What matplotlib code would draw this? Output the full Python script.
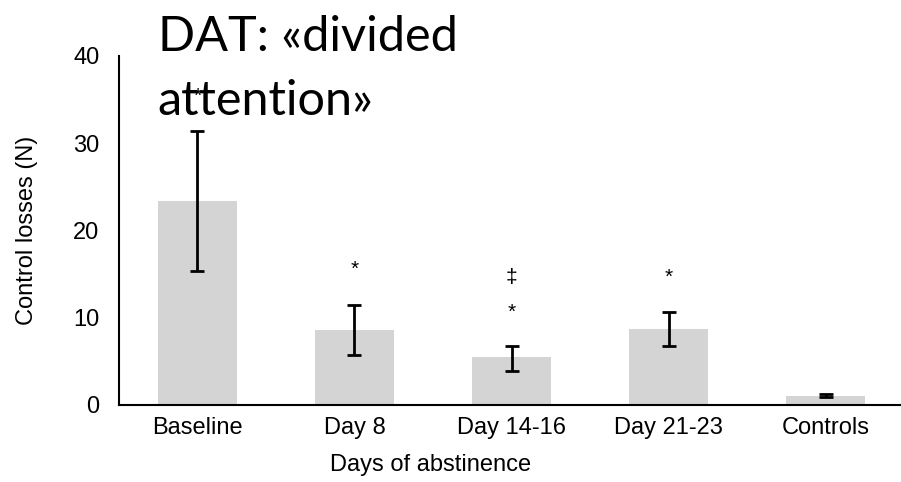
import matplotlib.pyplot as plt
import numpy as np

# values
groups = ["Baseline", "Day 8", "Day 14-16", "Day 21-23", "Controls"]
means = [23.4, 8.6, 5.5, 8.7, 1.0]
err_low = [8.0, 2.9, 1.5, 1.9, 0.15]
err_high = [8.0, 2.9, 1.3, 1.9, 0.15]
err_center = [23.4, 8.6, 5.4, 8.7, 1.1]

# significance marks: (group index, y value, symbol)
mark_idx = [0, 1, 2, 2, 3]
mark_y = [35.4, 15.5, 10.6, 14.6, 14.6]
mark_sym = ["*", "*", "*", "‡", "*"]

plt.rcParams['font.family'] = ['Liberation Sans', 'DejaVu Sans']

fig = plt.figure(figsize=(9.01, 4.82), dpi=100)
ax = fig.add_axes([0.132, 0.160, 0.868, 0.724])

x = np.arange(len(groups))
ax.bar(x, means, width=0.5, color='#d4d4d4', zorder=1)
ax.errorbar(x, err_center, yerr=[err_low, err_high], fmt='none',
            ecolor='black', elinewidth=2, capsize=5, capthick=2, zorder=3)

for i, yv, s in zip(mark_idx, mark_y, mark_sym):
    ax.text(x[i], yv, s, ha='center', va='center', fontsize=15, zorder=4)

ax.set_xlim(-0.5, 4.48)
ax.set_ylim(0, 40)
ax.set_yticks([0, 10, 20, 30, 40])
ax.set_xticks(x)
ax.set_xticklabels(groups)
ax.tick_params(axis='both', length=0, labelsize=17)
ax.tick_params(axis='y', pad=14)
ax.tick_params(axis='x', pad=9)

for side in ['top', 'right']:
    ax.spines[side].set_visible(False)
ax.spines['left'].set_linewidth(1.5)
ax.spines['bottom'].set_linewidth(1.5)

ax.set_ylabel("Control losses (N)", fontsize=17)
ax.yaxis.set_label_coords(-0.104, 0.5)
ax.set_xlabel("Days of abstinence", fontsize=17)
ax.xaxis.set_label_coords(0.398, -0.14)

# big overlay title, drawn over the plot like in the original slide
fig.text(0.175, 0.968, "DAT: «divided\nattention»", fontsize=35,
         family=['Lato', 'DejaVu Sans'], ha='left', va='top',
         linespacing=1.55, zorder=5)

fig.savefig("out.png", dpi=100)
